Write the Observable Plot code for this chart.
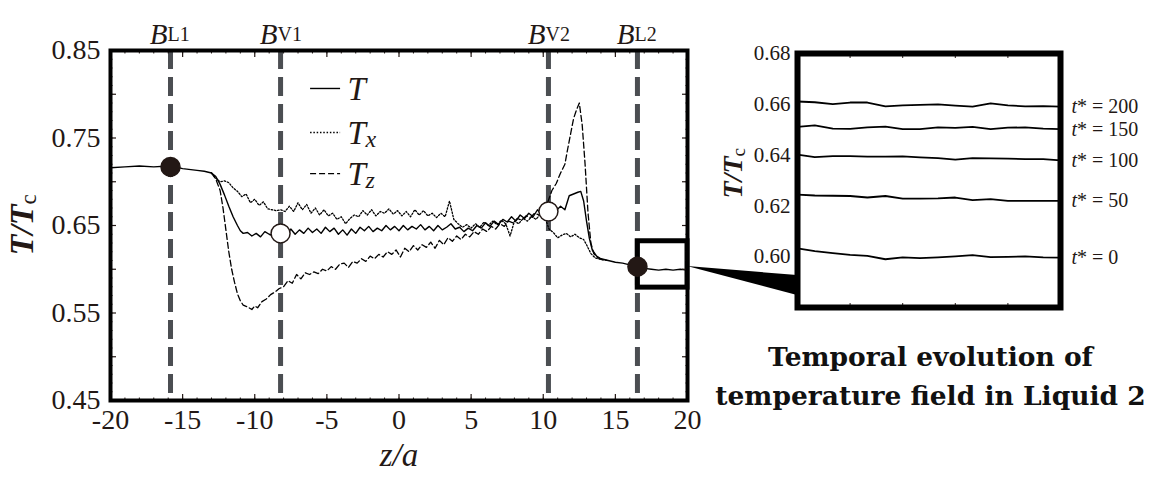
<!DOCTYPE html>
<html><head><meta charset="utf-8">
<script src="https://cdn.jsdelivr.net/npm/d3@7"></script>
<script src="https://cdn.jsdelivr.net/npm/@observablehq/plot@0.6"></script>
<style>
html,body{margin:0;padding:0;background:#fff;}
#wrap{position:relative;width:1161px;height:485px;overflow:hidden;background:#fff;}
#main{position:absolute;left:0;top:0;}
#wedge{position:absolute;left:0;top:0;}
#inset{position:absolute;left:700px;top:0;}
#main svg, #main svg text, #inset svg, #inset svg text{font-family:"Liberation Serif","Times New Roman",serif !important;}
#title{position:absolute;left:700px;width:461px;top:337px;text-align:center;font-family:"DejaVu Serif",serif;font-weight:bold;font-size:26.5px;line-height:39px;color:#111;white-space:nowrap;}
</style></head><body>
<div id="wrap">
  <div id="main"></div>
  <svg id="wedge" width="1161" height="485"></svg>
  <div id="inset"></div>
  <div id="title">Temporal evolution of<br>temperature field in Liquid 2</div>
</div>
<script>
// ---------------- data ----------------
const seriesT = [[-20,0.716],[-19,0.717],[-18,0.718],[-17,0.717],[-16,0.718],[-15.8,0.718],[-15,0.715],[-14,0.713],[-13.5,0.712],[-13,0.710],
[-12.7,0.706],[-12.4,0.697],[-12.1,0.685],[-11.8,0.672],[-11.5,0.66],[-11.2,0.65],[-11,0.644],[-10.8,0.641],[-10.5,0.642],[-10.2,0.638],
[-9.9,0.641],[-9.6,0.637],[-9.3,0.643],[-9,0.64],[-8.7,0.638],[-8.4,0.64],[-8.1,0.641],[-7.8,0.638],[-7.5,0.646],[-7.2,0.64],
[-6.9,0.645],[-6.6,0.641],[-6.3,0.647],[-6,0.642],[-5.7,0.646],[-5.4,0.641],[-5.1,0.648],[-4.8,0.643],[-4.5,0.647],[-4.2,0.64],
[-3.9,0.645],[-3.6,0.639],[-3.3,0.646],[-3,0.641],[-2.7,0.648],[-2.4,0.644],[-2.1,0.649],[-1.8,0.643],[-1.5,0.647],[-1.2,0.644],
[-0.9,0.65],[-0.6,0.645],[-0.3,0.649],[0,0.644],[0.3,0.65],[0.6,0.645],[0.9,0.649],[1.2,0.646],[1.5,0.651],[1.8,0.645],
[2.1,0.649],[2.4,0.644],[2.7,0.65],[3,0.645],[3.3,0.648],[3.6,0.652],[3.9,0.646],[4.2,0.648],[4.5,0.643],[4.8,0.647],
[5.1,0.644],[5.4,0.65],[5.7,0.647],[6,0.653],[6.3,0.649],[6.6,0.655],[6.9,0.651],[7.2,0.657],[7.5,0.654],[7.8,0.66],
[8.1,0.655],[8.4,0.662],[8.7,0.658],[9,0.664],[9.3,0.66],[9.6,0.668],[9.9,0.662],[10.3,0.666],[10.6,0.662],[10.9,0.667],
[11.2,0.672],[11.5,0.668],[11.8,0.684],[12.1,0.686],[12.4,0.688],[12.6,0.689],[12.8,0.678],[13,0.655],[13.2,0.635],[13.4,0.622],
[13.7,0.615],[14,0.612],[14.5,0.61],[15,0.608],[15.5,0.607],[16,0.605],[16.5,0.603],[17,0.601],[17.5,0.6],[18,0.599],
[18.5,0.6],[19,0.599],[19.5,0.6],[20,0.599]];

const seriesTx = [[-13,0.710],[-12.7,0.704],[-12.4,0.700],[-12.1,0.701],[-11.8,0.699],[-11.5,0.693],[-11.2,0.689],[-10.9,0.683],[-10.6,0.686],[-10.3,0.676],
[-10,0.68],[-9.7,0.673],[-9.4,0.677],[-9.1,0.669],[-8.8,0.668],[-8.5,0.667],[-8.2,0.668],[-7.9,0.666],[-7.6,0.672],[-7.3,0.666],
[-7,0.676],[-6.7,0.668],[-6.4,0.674],[-6.1,0.664],[-5.8,0.67],[-5.5,0.662],[-5.2,0.668],[-4.9,0.661],[-4.6,0.664],[-4.3,0.657],
[-4,0.66],[-3.7,0.652],[-3.4,0.658],[-3.1,0.662],[-2.8,0.66],[-2.5,0.667],[-2.2,0.662],[-1.9,0.668],[-1.6,0.661],[-1.3,0.666],
[-1,0.664],[-0.7,0.669],[-0.4,0.663],[-0.1,0.667],[0.2,0.661],[0.5,0.666],[0.8,0.66],[1.1,0.668],[1.4,0.662],[1.7,0.667],
[2,0.661],[2.3,0.664],[2.6,0.659],[2.9,0.664],[3.2,0.66],[3.5,0.678],[3.8,0.657],[4.1,0.652],[4.4,0.648],[4.7,0.651],
[5,0.647],[5.3,0.652],[5.6,0.648],[5.9,0.654],[6.2,0.65],[6.5,0.655],[6.8,0.651],[7.1,0.656],[7.4,0.652],[7.7,0.638],
[8,0.655],[8.3,0.652],[8.6,0.658],[8.9,0.655],[9.2,0.66],[9.5,0.657],[9.8,0.663],[10.1,0.66],[10.4,0.646],[10.7,0.642],
[11,0.636],[11.3,0.639],[11.6,0.641],[11.9,0.637],[12.2,0.64],[12.5,0.636],[12.8,0.634],[13,0.628],[13.3,0.618],[13.6,0.613],
[14,0.611],[14.5,0.61]];

const seriesTz = [[-13,0.710],[-12.7,0.703],[-12.4,0.69],[-12.2,0.67],[-12,0.645],[-11.8,0.62],[-11.6,0.6],[-11.4,0.585],[-11.2,0.572],[-11,0.564],
[-10.8,0.559],[-10.5,0.557],[-10.2,0.554],[-10,0.558],[-9.8,0.556],[-9.5,0.563],[-9.2,0.566],[-8.9,0.571],[-8.6,0.574],[-8.3,0.578],
[-8,0.58],[-7.7,0.587],[-7.4,0.584],[-7.1,0.594],[-6.8,0.589],[-6.5,0.596],[-6.2,0.594],[-5.9,0.597],[-5.6,0.595],[-5.3,0.6],
[-5,0.598],[-4.7,0.603],[-4.4,0.6],[-4.1,0.606],[-3.8,0.607],[-3.5,0.602],[-3.2,0.609],[-2.9,0.607],[-2.6,0.612],[-2.3,0.609],
[-2,0.615],[-1.7,0.612],[-1.4,0.617],[-1.1,0.614],[-0.8,0.62],[-0.5,0.617],[-0.2,0.622],[0.1,0.614],[0.4,0.624],[0.7,0.62],
[1,0.627],[1.3,0.622],[1.6,0.628],[1.9,0.625],[2.2,0.631],[2.5,0.624],[2.8,0.633],[3.1,0.628],[3.4,0.636],[3.7,0.632],
[4,0.638],[4.3,0.634],[4.6,0.64],[4.9,0.637],[5.2,0.643],[5.5,0.64],[5.8,0.646],[6.1,0.643],[6.4,0.649],[6.7,0.646],
[7,0.652],[7.3,0.649],[7.6,0.655],[7.9,0.653],[8.2,0.658],[8.5,0.656],[8.8,0.661],[9.1,0.659],[9.4,0.664],[9.7,0.662],
[10,0.668],[10.3,0.676],[10.6,0.69],[10.9,0.698],[11.2,0.71],[11.5,0.72],[11.7,0.738],[11.9,0.755],[12.1,0.772],[12.3,0.782],
[12.5,0.79],[12.7,0.765],[12.9,0.72],[13.1,0.665],[13.3,0.63],[13.5,0.618],[13.8,0.613],[14.1,0.611]];

const boundaryZ = [-15.84, -8.21, 10.36, 16.53];
const boundaryName = ["L1", "V1", "V2", "L2"];
const markerZ = [-15.84, -8.21, 10.36, 16.53];
const markerT = [0.717, 0.641, 0.666, 0.603];
const markerFilled = [true, false, false, true];
const xTickLabels = [-20, -15, -10, -5, 0, 5, 10, 15, 20];
const yTickLabels = [0.45, 0.55, 0.65, 0.75, 0.85];
const legendNames = ["T", "T", "T"];
const legendSubs = ["", "x", "z"];
const zoomBox = [16.55, 20, 0.579, 0.632]; // z1, z2, T1, T2

const insetZ = [16.5, 16.73, 16.97, 17.2, 17.43, 17.67, 17.9, 18.13, 18.37, 18.6, 18.83, 19.07, 19.3, 19.53, 19.77, 20.0];
const insetTimes = [0, 50, 100, 150, 200];
const inset0   = [0.6033,0.6022,0.6014,0.6007,0.6003,0.5990,0.5997,0.5994,0.5997,0.6001,0.6006,0.5998,0.5999,0.6001,0.5997,0.5996];
const inset50  = [0.6244,0.6241,0.6240,0.6239,0.6233,0.6239,0.6229,0.6229,0.6230,0.6233,0.6223,0.6227,0.6220,0.6220,0.6220,0.6220];
const inset100 = [0.6402,0.6392,0.6396,0.6396,0.6394,0.6394,0.6395,0.6391,0.6388,0.6382,0.6388,0.6387,0.6386,0.6384,0.6384,0.6379];
const inset150 = [0.6511,0.6517,0.6504,0.6503,0.6509,0.6512,0.6502,0.6502,0.6509,0.6507,0.6511,0.6502,0.6508,0.6509,0.6504,0.6502];
const inset200 = [0.6611,0.6608,0.6601,0.6607,0.6607,0.6592,0.6596,0.6598,0.6600,0.6595,0.6591,0.6604,0.6596,0.6592,0.6593,0.6591];
const insetTickLabels = [0.60, 0.62, 0.64, 0.66, 0.68];

// ---------------- build ----------------
const ink = "#231815";
const gray = "#4b4e52";
const serif = "Liberation Serif";
const toRows = (pairs) => pairs.map(([z, v]) => ({z, v}));
const dataT = toRows(seriesT), dataTx = toRows(seriesTx), dataTz = toRows(seriesTz);
const markers = markerZ.map((z, i) => ({z, v: markerT[i], filled: markerFilled[i]}));
const bData = boundaryZ.map((z, i) => ({z, name: boundaryName[i]}));
const legendY = [0.8066, 0.7563, 0.7094];
const legendRows = legendNames.map((n, i) => ({n, sub: legendSubs[i], y: legendY[i]}));
const legLine = [-6.13, -4.05], legText = -3.57;

const main = Plot.plot({
  width: 700, height: 485,
  marginLeft: 110, marginRight: 13, marginTop: 50, marginBottom: 85,
  x: {domain: [-20, 20], label: null},
  y: {domain: [0.45, 0.85], label: null},
  style: {fontFamily: serif, color: ink, background: "transparent", overflow: "visible"},
  marks: [
    Plot.ruleX(boundaryZ, {x: d => d, y1: 0.85, y2: 0.45, stroke: gray, strokeWidth: 5, strokeDasharray: "19,8"}),
    Plot.line(dataTx, {x: "z", y: "v", stroke: "#000", strokeWidth: 1.3, strokeDasharray: "1.5,1.8"}),
    Plot.line(dataTz, {x: "z", y: "v", stroke: "#000", strokeWidth: 1.3, strokeDasharray: "6,3"}),
    Plot.line(dataT, {x: "z", y: "v", stroke: "#000", strokeWidth: 1.4}),
    Plot.rect([zoomBox], {x1: d => d[0], x2: d => d[1], y1: d => d[2], y2: d => d[3], fill: "none", stroke: "#000", strokeWidth: 5}),
    Plot.dot(markers, {x: "z", y: "v", r: 9.5, fill: d => d.filled ? ink : "#fff", stroke: ink, strokeWidth: 1.5}),
    // legend
    Plot.ruleY([legendRows[0]], {y: "y", x1: legLine[0], x2: legLine[1], stroke: "#000", strokeWidth: 1.4}),
    Plot.ruleY([legendRows[1]], {y: "y", x1: legLine[0], x2: legLine[1], stroke: "#000", strokeWidth: 1.3, strokeDasharray: "1.5,1.8"}),
    Plot.ruleY([legendRows[2]], {y: "y", x1: legLine[0], x2: legLine[1], stroke: "#000", strokeWidth: 1.3, strokeDasharray: "6,3"}),
    Plot.text(legendRows, {x: () => legText, y: "y", text: "n", textAnchor: "start", fontSize: 33, fontStyle: "italic", fontFamily: serif, fill: ink, dy: 1}),
    Plot.text(legendRows, {x: () => legText, y: "y", text: "sub", textAnchor: "start", fontSize: 24, fontStyle: "italic", fontFamily: serif, fill: ink, dx: 18, dy: 7}),
    // boundary names
    Plot.text(bData, {x: "z", frameAnchor: "top", text: () => "B", textAnchor: "end", dx: -3, dy: -27, fontSize: 29, fontStyle: "italic", fontFamily: serif, fill: ink}),
    Plot.text(bData, {x: "z", frameAnchor: "top", text: "name", textAnchor: "start", dx: -3, dy: -24, fontSize: 20, fontFamily: serif, fill: ink}),
    // inward ticks
    Plot.axisX(d3.range(-19, 20, 1), {anchor: "bottom", tickSize: -2.5, tickFormat: () => "", label: null, strokeWidth: 1}),
    Plot.axisX(d3.range(-19, 20, 1), {anchor: "top", tickSize: -2.5, tickFormat: () => "", label: null, strokeWidth: 1}),
    Plot.axisX(xTickLabels, {anchor: "bottom", tickSize: -6, tickFormat: () => "", label: null, strokeWidth: 1.2}),
    Plot.axisX(xTickLabels, {anchor: "top", tickSize: -6, tickFormat: () => "", label: null, strokeWidth: 1.2}),
    Plot.axisY(d3.range(0.46, 0.845, 0.01), {anchor: "left", tickSize: -2.5, tickFormat: () => "", label: null, strokeWidth: 1}),
    Plot.axisY(d3.range(0.46, 0.845, 0.01), {anchor: "right", tickSize: -2.5, tickFormat: () => "", label: null, strokeWidth: 1}),
    Plot.axisY([0.5, 0.6, 0.7, 0.8, 0.55, 0.65, 0.75], {anchor: "left", tickSize: -6, tickFormat: () => "", label: null, strokeWidth: 1.2}),
    Plot.axisY([0.5, 0.6, 0.7, 0.8, 0.55, 0.65, 0.75], {anchor: "right", tickSize: -6, tickFormat: () => "", label: null, strokeWidth: 1.2}),
    // tick labels
    Plot.axisX(xTickLabels, {anchor: "bottom", tickSize: 0, tickPadding: 9, fontSize: 28, fontFamily: serif, tickFormat: d => `${d}`, label: null}),
    Plot.axisY(yTickLabels, {anchor: "left", tickSize: 0, tickPadding: 10, fontSize: 28, fontFamily: serif, tickFormat: d => d.toFixed(2), label: null}),
    // axis titles
    Plot.text(["z/a"], {frameAnchor: "bottom", dy: 65, fontSize: 33, fontStyle: "italic", fontFamily: serif, fill: ink}),
    Plot.text(["T/T"], {frameAnchor: "left", dx: -88, dy: 30, rotate: -90, textAnchor: "start", fontSize: 34, fontStyle: "italic", fontWeight: "bold", fontFamily: serif, fill: ink}),
    Plot.text(["c"], {frameAnchor: "left", dx: -82, dy: -21, rotate: -90, textAnchor: "start", fontSize: 23, fontFamily: serif, fill: ink}),
    Plot.frame({stroke: "#000", strokeWidth: 4})
  ]
});
document.getElementById("main").appendChild(main);

// inset
const insetSeries = [inset0, inset50, inset100, inset150, inset200];
const insetRows = insetSeries.flatMap((vals, k) => vals.map((v, i) => ({z: insetZ[i], v, t: insetTimes[k]})));
const inset = Plot.plot({
  width: 461, height: 330,
  marginLeft: 97, marginRight: 101, marginTop: 53, marginBottom: 23,
  x: {domain: [16.5, 20], label: null},
  y: {domain: [0.58, 0.68], label: null},
  style: {fontFamily: serif, color: ink, background: "transparent", overflow: "visible"},
  marks: [
    Plot.line(insetRows, {x: "z", y: "v", z: "t", stroke: "#000", strokeWidth: 1.8}),
    Plot.text(insetRows, Plot.selectLast({x: "z", y: "v", z: "t", text: () => "t", dx: 11, textAnchor: "start", fontStyle: "italic", fontSize: 20, fontFamily: serif, fill: ink})),
    Plot.text(insetRows, Plot.selectLast({x: "z", y: "v", z: "t", text: d => `* = ${d.t}`, dx: 16.5, textAnchor: "start", fontSize: 20, fontFamily: serif, fill: ink})),
    Plot.axisX([17.2, 17.9, 18.6, 19.3], {anchor: "bottom", tickSize: -4, tickFormat: () => "", label: null}),
    Plot.axisX([17.2, 17.9, 18.6, 19.3], {anchor: "top", tickSize: -4, tickFormat: () => "", label: null}),
    Plot.axisY(insetTickLabels, {anchor: "left", tickSize: 0, tickPadding: 7, fontSize: 21, fontFamily: serif, tickFormat: d => d.toFixed(2), label: null}),
    Plot.text(["T/T"], {frameAnchor: "left", dx: -64, dy: 18, rotate: -90, textAnchor: "start", fontSize: 28, fontStyle: "italic", fontWeight: "bold", fontFamily: serif, fill: ink}),
    Plot.text(["c"], {frameAnchor: "left", dx: -59, dy: -24, rotate: -90, textAnchor: "start", fontSize: 19, fontFamily: serif, fill: ink}),
    Plot.frame({stroke: "#000", strokeWidth: 6})
  ]
});
document.getElementById("inset").appendChild(inset);

// connector wedge computed through both plots' scales
const mx = main.scale("x"), my = main.scale("y");
const ix = inset.scale("x"), iy = inset.scale("y");
const insetLeft = 700;
const p0 = [mx.apply(20), my.apply(0.6031)];
const p1 = [insetLeft + ix.apply(16.5), iy.apply(0.5926)];
const p2 = [insetLeft + ix.apply(16.5), iy.apply(0.5847)];
d3.select("#wedge").append("polygon")
  .attr("points", [p0, p1, p2].map(p => p.join(",")).join(" "))
  .attr("fill", "#000");
</script>
</body></html>
